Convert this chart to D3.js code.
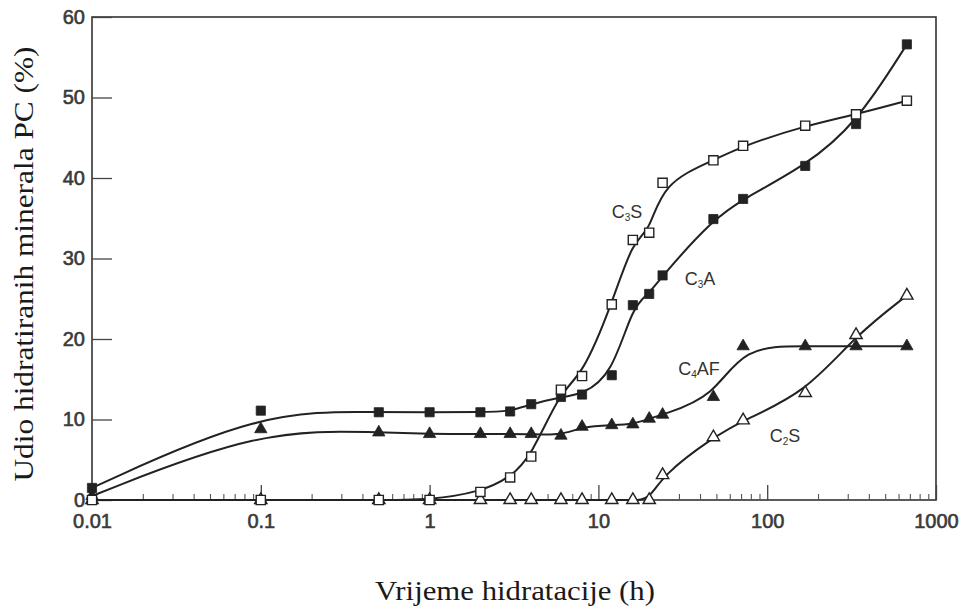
<!DOCTYPE html>
<html><head><meta charset="utf-8">
<script src="https://cdn.jsdelivr.net/npm/d3@7"></script>
<style>body{margin:0;background:#fff}svg{display:block}</style>
</head><body><svg id="c" width="965" height="607"></svg>
<script>
// hydration times (h)
const hours = [0.01, 0.1, 0.5, 1, 2, 3, 4, 6, 8, 12, 16, 20, 24, 48, 72, 168, 336, 672];
// percent hydrated
const c3s  = [0, 0, 0, 0, 1.0, 2.8, 5.4, 13.7, 15.4, 24.3, 32.3, 33.2, 39.4, 42.2, 44.0, 46.5, 47.9, 49.6];
const c3a  = [1.5, 11.1, 10.9, 10.9, 10.9, 11.0, 11.9, 12.8, 13.1, 15.5, 24.2, 25.6, 27.9, 34.9, 37.4, 41.5, 46.7, 56.6];
const c4af = [0.5, 8.8, 8.4, 8.2, 8.2, 8.2, 8.2, 8.0, 9.1, 9.3, 9.4, 10.1, 10.6, 12.8, 19.1, 19.1, 19.1, 19.1];
const c2s  = [0, 0, 0, 0, 0, 0, 0, 0, 0, 0, 0, 0, 3.1, 7.8, 9.9, 13.3, 20.5, 25.4];

const xTicks = [0.01, 0.1, 1, 10, 100, 1000];
const xTickLabels = ["0.01", "0.1", "1", "10", "100", "1000"];
const yTicks = [0, 10, 20, 30, 40, 50, 60];
const yTickLabels = ["0", "10", "20", "30", "40", "50", "60"];

const xTitle = "Vrijeme hidratacije (h)";
const yTitle = "Udio hidratiranih minerala PC (%)";

const svg = d3.select("#c");
const x = d3.scaleLog().domain([0.01, 1000]).range([92, 936]);
const y = d3.scaleLinear().domain([0, 60]).range([500, 17]);
const ink = "#222";

// frame
svg.append("rect").attr("x", x(0.01)).attr("y", y(60))
  .attr("width", x(1000) - x(0.01)).attr("height", y(0) - y(60))
  .attr("fill", "none").attr("stroke", "#333").attr("stroke-width", 1.6);

// minor x ticks
const minor = [];
[0.01, 0.1, 1, 10, 100].forEach(d => { for (let k = 2; k <= 9; k++) minor.push(d * k); });
const gMinor = svg.append("g").attr("transform", `translate(0,${y(0)})`)
  .call(d3.axisBottom(x).tickValues(minor).tickSize(-6).tickFormat(""));
gMinor.select(".domain").remove();
gMinor.selectAll("line").attr("stroke", "#555").attr("stroke-width", 1.1);

const tickFont = "'Liberation Sans', Arial, sans-serif";
const gx = svg.append("g").attr("transform", `translate(0,${y(0)})`)
  .call(d3.axisBottom(x).tickValues(xTicks).tickSize(-15).tickPadding(14)
    .tickFormat((d, i) => xTickLabels[i]));
gx.select(".domain").remove();
gx.selectAll("line").attr("stroke", "#444").attr("stroke-width", 1.3);
gx.selectAll("text").attr("font-family", tickFont).attr("font-size", 20)
  .attr("fill", "#3a3a3a").attr("stroke", "#3a3a3a").attr("stroke-width", 0.6);

const gy = svg.append("g").attr("transform", `translate(${x(0.01)},0)`)
  .call(d3.axisLeft(y).tickValues(yTicks).tickSize(-20).tickPadding(7)
    .tickFormat((d, i) => yTickLabels[i]));
gy.select(".domain").remove();
gy.selectAll("line").attr("stroke", "#444").attr("stroke-width", 1.3);
gy.selectAll("text").attr("font-family", tickFont).attr("font-size", 20)
  .attr("fill", "#3a3a3a").attr("stroke", "#3a3a3a").attr("stroke-width", 0.6);

// curves
const series = [
  { name: "C3S", vals: c3s, marker: "sq", filled: false },
  { name: "C3A", vals: c3a, marker: "sq", filled: true },
  { name: "C4AF", vals: c4af, marker: "tri", filled: true },
  { name: "C2S", vals: c2s, marker: "tri", filled: false }
];
const line = d3.line().x(d => x(d[0])).y(d => y(d[1])).curve(d3.curveBasis);
series.forEach(s => {
  const pts = hours.map((h, i) => [h, s.vals[i]]);
  svg.append("path").attr("d", line(pts)).attr("fill", "none")
    .attr("stroke", ink).attr("stroke-width", 2);
});

// markers
const sym = {
  sq: d3.symbol().type(d3.symbolSquare).size(84),
  tri: d3.symbol().type(d3.symbolTriangle).size(66)
};
series.slice().reverse().forEach(s => {
  svg.append("g").selectAll("path").data(hours.map((h, i) => [h, s.vals[i]]))
    .join("path")
    .attr("transform", d => `translate(${x(d[0])},${y(d[1])})`)
    .attr("d", sym[s.marker])
    .attr("fill", s.filled ? ink : "#fff")
    .attr("stroke", ink).attr("stroke-width", s.filled ? 0.8 : 1.4);
});

// series labels with subscripts
const labels = [
  { main: "C", sub: "3", rest: "S", x: 627, y: 218 },
  { main: "C", sub: "3", rest: "A", x: 700, y: 285 },
  { main: "C", sub: "4", rest: "AF", x: 699, y: 375 },
  { main: "C", sub: "2", rest: "S", x: 785, y: 442 }
];
labels.forEach(l => {
  const t = svg.append("text").attr("x", l.x).attr("y", l.y)
    .attr("text-anchor", "middle").attr("font-family", tickFont)
    .attr("font-size", 18).attr("fill", "#333");
  t.append("tspan").text(l.main);
  t.append("tspan").attr("font-size", 10).attr("dy", 3).text(l.sub);
  t.append("tspan").attr("dy", -3).text(l.rest);
});

// axis titles
const serif = "'Liberation Serif', 'Times New Roman', serif";
svg.append("text").attr("x", 515).attr("y", 600).attr("text-anchor", "middle")
  .attr("font-family", serif).attr("font-size", 27).attr("fill", "#1a1a1a")
  .attr("textLength", 280).attr("lengthAdjust", "spacingAndGlyphs").text(xTitle);
svg.append("text").attr("transform", "translate(33,264) rotate(-90)")
  .attr("text-anchor", "middle")
  .attr("font-family", serif).attr("font-size", 27).attr("fill", "#1a1a1a")
  .attr("textLength", 435).attr("lengthAdjust", "spacingAndGlyphs").text(yTitle);
</script></body></html>
